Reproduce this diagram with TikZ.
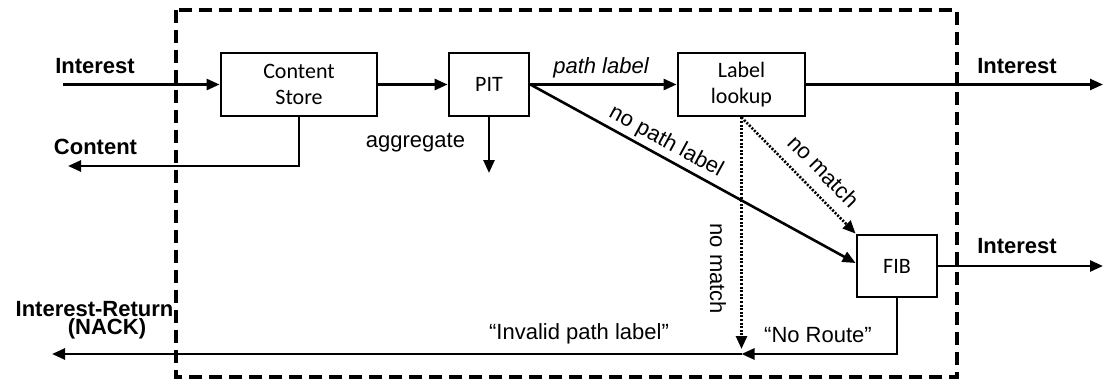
\documentclass[tikz,border=0pt]{standalone}
\usepackage{fontspec}
\setmainfont{Liberation Sans}
\newfontfamily\boxfont{Carlito}
\usetikzlibrary{arrows.meta}
\begin{document}
\begin{tikzpicture}[x=1pt,y=-1pt,
  blk/.style={draw, line width=2.8pt, inner sep=0pt, font=\boxfont\fontsize{22}{26}\selectfont, align=center},
  arr/.style={line width=2.6pt, -{Triangle[length=13pt,width=11pt]}},
  dotarr/.style={line width=2.6pt, dash pattern=on 2pt off 1.6pt, -{Triangle[length=13pt,width=11pt]}},
  lbl/.style={font=\fontsize{22}{26}\selectfont, inner sep=0pt},
  ilbl/.style={font=\itshape\fontsize{22}{26}\selectfont, inner sep=0pt},
  blbl/.style={font=\bfseries\fontsize{22}{26}\selectfont, inner sep=0pt},
  frame/.style={line width=3.4pt, dash pattern=on 13pt off 7pt}
]
\useasboundingbox (0,0) rectangle (1104,383);
\draw[frame] (176,10) rectangle (957,377);

\node[blk, minimum width=156pt, minimum height=63pt] (CS) at (299,84.5) {Content\\Store};
\node[blk, minimum width=80pt, minimum height=63pt] (PIT) at (489,84.5) {PIT};
\node[blk, minimum width=127pt, minimum height=63pt] (LL) at (741.5,84.5) {Label\\lookup};
\node[blk, minimum width=80pt, minimum height=62pt] (FIB) at (897,266) {FIB};

\coordinate (inL) at (63,84.5);
\coordinate (outR) at (1103,84.5);
\coordinate (contL) at (68,166);
\coordinate (aggE) at (489,173);
\coordinate (outR2) at (1103,266);
\coordinate (junc) at (741.5,354);
\coordinate (nmE) at (741.5,349);
\coordinate (nackL) at (52,354);

\draw[arr] (inL) -- (CS.west);
\draw[arr] (CS.east) -- (PIT.west);
\draw[arr] (PIT.east) -- (LL.west);
\draw[arr] (LL.east) -- (outR);
\draw[arr] (CS.south) |- (contL);
\draw[arr] (PIT.south) -- (aggE);
\draw[arr] (PIT.east) -- ([yshift=3pt]FIB.west);
\draw[dotarr] (LL.south) -- (FIB.north west);
\draw[dotarr] (LL.south) -- (nmE);
\draw[arr] (FIB.east) -- (outR2);
\draw[arr] (FIB.south) |- (junc);
\draw[arr] (junc) -- (nackL);

\node[blbl, anchor=base] (tIn) at (95,73) {Interest};
\node[blbl, anchor=base] (tCont) at (95.5,154) {Content};
\node[lbl, anchor=base] (tAgg) at (415.5,147) {aggregate};
\node[ilbl, anchor=base] (tPath) at (601,73) {path label};
\node[blbl, anchor=base] (tOut1) at (1017,73) {Interest};
\node[blbl, anchor=base] (tOut2) at (1017,253) {Interest};
\node[lbl, rotate=-28.6] (tNPL) at (666,142) {no path label};
\node[lbl, rotate=-45.7] (tNM1) at (824,171) {no match};
\node[lbl, rotate=-90] (tNM2) at (718,269) {no match};
\node[lbl, anchor=base] (tNR) at (818,342) {“No Route”};
\node[lbl, anchor=base] (tIPL) at (579,339) {“Invalid path label”};
\node[blbl, anchor=base] (tIR) at (94.5,316) {Interest-Return};
\node[blbl, anchor=base] (tNACK) at (107,334) {(NACK)};
\end{tikzpicture}
\end{document}
